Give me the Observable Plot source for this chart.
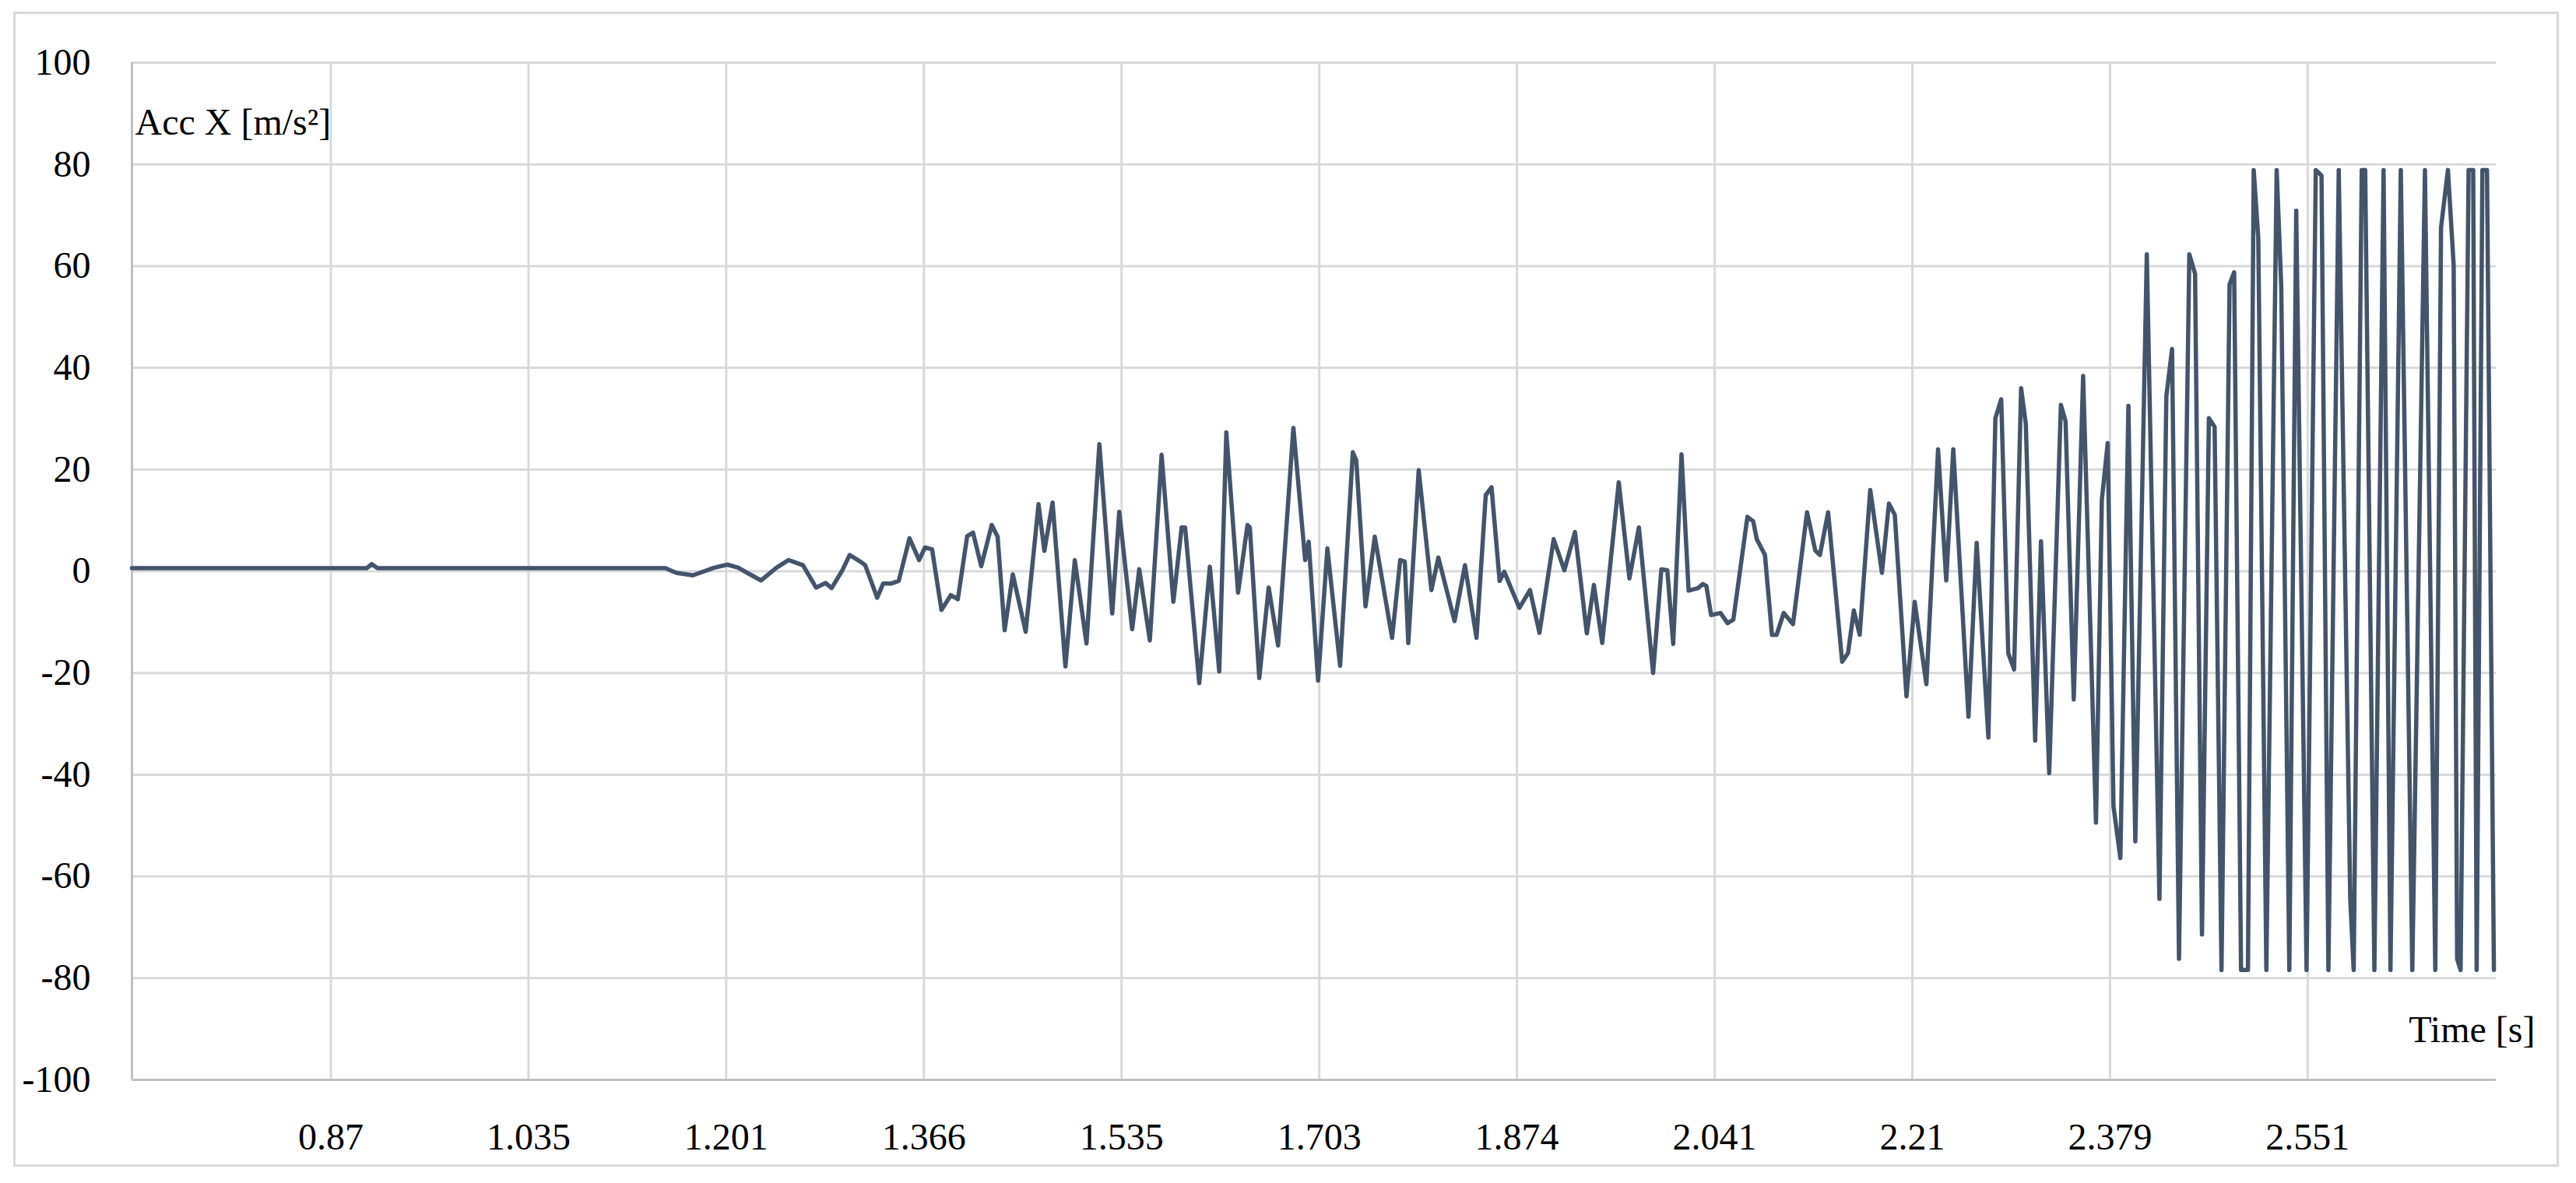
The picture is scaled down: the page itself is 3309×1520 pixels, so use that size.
<!DOCTYPE html>
<html>
<head>
<meta charset="utf-8">
<script src="https://cdn.jsdelivr.net/npm/d3@7"></script>
<script src="https://cdn.jsdelivr.net/npm/@observablehq/plot@0.6"></script>
<style>
html, body { margin: 0; padding: 0; background: #ffffff; }
#wrap { position: relative; width: 3309px; height: 1520px; overflow: hidden; background: #fff; }
#border { position: absolute; left: 17px; top: 15px; width: 3264px; height: 1478px; border: 3px solid #D9D9D9; pointer-events: none; }
#chart { position: absolute; left: 0; top: 0; }
</style>
</head>
<body>
<div id="wrap"><div id="chart"></div><div id="border"></div></div>
<script>
// Category labels shown on the time axis (evenly spaced in the original)
const xTickLabels = ["0.87", "1.035", "1.201", "1.366", "1.535", "1.703", "1.874", "2.041", "2.21", "2.379", "2.551"];
const yTicks = [-100, -80, -60, -40, -20, 0, 20, 40, 60, 80, 100];
const timeRange = [0.704, 2.715];
const yLabel = "Acc X [m/s²]";
const xLabel = "Time [s]";

// Time [s] of each vertex
const times = [
  0.704, 0.900, 0.904, 0.909, 1.150, 1.159, 1.173, 1.191, 1.202, 1.211,
  1.220, 1.230, 1.243, 1.253, 1.265, 1.276, 1.284, 1.289, 1.298, 1.304,
  1.313, 1.317, 1.327, 1.332, 1.339, 1.345, 1.354, 1.362, 1.367, 1.373,
  1.381, 1.389, 1.395, 1.403, 1.408, 1.415, 1.424, 1.429, 1.435, 1.442,
  1.453, 1.464, 1.469, 1.476, 1.487, 1.495, 1.505, 1.516, 1.527, 1.533,
  1.544, 1.550, 1.559, 1.569, 1.579, 1.586, 1.589, 1.601, 1.610, 1.618,
  1.624, 1.634, 1.642, 1.644, 1.652, 1.660, 1.668, 1.681, 1.691, 1.694,
  1.702, 1.710, 1.721, 1.732, 1.735, 1.743, 1.751, 1.766, 1.773, 1.777,
  1.780, 1.789, 1.800, 1.806, 1.820, 1.829, 1.839, 1.847, 1.852, 1.859,
  1.863, 1.876, 1.885, 1.893, 1.905, 1.914, 1.923, 1.933, 1.939, 1.946,
  1.960, 1.969, 1.977, 1.989, 1.996, 2.001, 2.006, 2.013, 2.019, 2.027,
  2.031, 2.034, 2.038, 2.046, 2.052, 2.057, 2.069, 2.074, 2.077, 2.084,
  2.090, 2.094, 2.100, 2.108, 2.120, 2.127, 2.131, 2.138, 2.150, 2.155,
  2.160, 2.165, 2.174, 2.184, 2.190, 2.195, 2.205, 2.212, 2.222, 2.232,
  2.239, 2.245, 2.258, 2.265, 2.275, 2.281, 2.286, 2.292, 2.297, 2.303,
  2.307, 2.315, 2.320, 2.327, 2.337, 2.341, 2.348, 2.356, 2.367, 2.372,
  2.377, 2.382, 2.388, 2.395, 2.401, 2.411, 2.422, 2.428, 2.433, 2.439,
  2.448, 2.453, 2.459, 2.465, 2.470, 2.476, 2.483, 2.487, 2.493, 2.499,
  2.504, 2.508, 2.515, 2.524, 2.528, 2.535, 2.541, 2.550, 2.558, 2.563,
  2.569, 2.578, 2.588, 2.591, 2.598, 2.601, 2.609, 2.617, 2.623, 2.632,
  2.642, 2.653, 2.662, 2.667, 2.673, 2.678, 2.681, 2.684, 2.691, 2.695,
  2.698, 2.703, 2.707, 2.713
];

// Acc X [m/s²] at each vertex
const accX = [
  0.6, 0.6, 1.4, 0.6, 0.6, -0.3, -0.8, 0.7, 1.3, 0.7,
  -0.5, -1.8, 0.7, 2.2, 1.2, -3.2, -2.3, -3.3, 0.2, 3.2,
  1.9, 1.2, -5.2, -2.4, -2.4, -1.9, 6.5, 2.2, 4.7, 4.3,
  -7.6, -4.7, -5.5, 6.9, 7.6, 1.0, 9.1, 6.8, -11.6, -0.6,
  -11.9, 13.2, 4.0, 13.5, -18.7, 2.2, -14.2, 25.0, -8.3, 11.7,
  -11.4, 0.4, -13.6, 22.9, -6.0, 8.6, 8.6, -22.0, 0.9, -19.7,
  27.3, -4.2, 9.1, 8.6, -21.0, -3.2, -14.6, 28.2, 2.2, 5.8,
  -21.5, 4.5, -18.6, 23.4, 21.8, -6.9, 6.8, -13.1, 2.2, 1.9,
  -14.1, 19.9, -3.7, 2.7, -9.8, 1.2, -13.1, 15.0, 16.5, -1.9,
  -0.1, -7.2, -3.7, -12.1, 6.3, 0.2, 7.7, -12.2, -2.7, -14.1,
  17.5, -1.4, 8.6, -20.0, 0.4, 0.2, -14.3, 23.0, -3.8, -3.3,
  -2.5, -2.9, -8.6, -8.2, -10.2, -9.5, 10.7, 9.8, 6.3, 3.2,
  -12.5, -12.5, -8.2, -10.4, 11.6, 4.1, 3.2, 11.6, -17.8, -16.1,
  -7.7, -12.5, 16.0, -0.3, 13.3, 11.1, -24.6, -6.0, -22.2, 24.0,
  -1.8, 24.0, -28.6, 5.6, -32.7, 30.1, 33.8, -16.1, -19.3, 36.0,
  29.0, -33.3, 5.9, -39.7, 32.7, 29.5, -25.2, 38.4, -49.4, 14.0,
  25.2, -46.2, -56.4, 32.5, -53.1, 62.3, -64.4, 34.4, 43.7, -76.2,
  62.3, 58.5, -71.4, 30.1, 28.4, -78.4, 56.4, 58.8, -78.4, -78.4,
  78.9, 65.5, -78.4, 78.9, 55.8, -78.4, 70.9, -78.4, 78.9, 77.8,
  -78.4, 78.9, -64.4, -78.4, 78.9, 78.9, -78.4, 78.9, -78.4, 78.9,
  -78.4, 78.9, -78.4, 67.6, 78.9, 60.1, -76.2, -78.4, 78.9, 78.9,
  -78.4, 78.9, 78.9, -78.4
];

// The original is a category axis: labels are evenly spaced, so map time -> label slot
const tickTimes = xTickLabels.map(Number);
const slot = d3.scaleLinear().domain(tickTimes).range(d3.range(tickTimes.length));
const data = times.map((t, i) => ({ p: slot(t), v: accX[i] }));
const xTicks = d3.range(xTickLabels.length);
const gridYTicks = yTicks.filter(d => d > -100);

const font = "'Liberation Serif', 'Times New Roman', 'DejaVu Serif', serif";

const chart = Plot.plot({
  width: 3309,
  height: 1520,
  marginLeft: 169,
  marginRight: 103,
  marginTop: 80,
  marginBottom: 133,
  style: { fontFamily: font, fontSize: "48px", color: "#000", background: "#fff", overflow: "visible" },
  x: { domain: timeRange.map(slot), label: null },
  y: { domain: [-100, 100], label: null },
  marks: [
    Plot.gridY(gridYTicks, { stroke: "#D9D9D9", strokeOpacity: 1, strokeWidth: 3 }),
    Plot.gridX(xTicks, { stroke: "#D9D9D9", strokeOpacity: 1, strokeWidth: 3 }),
    Plot.ruleY([-100], { stroke: "#BFBFBF", strokeWidth: 3 }),
    Plot.ruleX([slot(timeRange[0])], { stroke: "#BFBFBF", strokeWidth: 3 }),
    Plot.axisY({ ticks: yTicks, tickFormat: d => String(d), tickSize: 0, tickPadding: 53, fontSize: 48, fill: "#000", label: null }),
    Plot.axisX({ ticks: xTicks, tickFormat: i => xTickLabels[i], tickSize: 0, tickPadding: 55, fontSize: 48, fill: "#000", label: null }),
    Plot.line(data, { x: "p", y: "v", stroke: "#44546A", strokeWidth: 5.5, strokeLinejoin: "round", strokeLinecap: "round" }),
    Plot.text([yLabel], { frameAnchor: "top-left", textAnchor: "start", dx: 4, dy: 58, fontSize: 48, fill: "#000" }),
    Plot.text([xLabel], { frameAnchor: "bottom-right", textAnchor: "end", dx: 50, dy: -49, fontSize: 48, fill: "#000" })
  ]
});
document.getElementById("chart").appendChild(chart);
</script>
</body>
</html>
